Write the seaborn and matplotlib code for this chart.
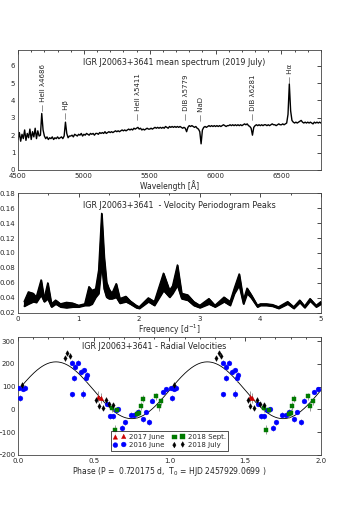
import numpy as np
import seaborn as sns
import matplotlib
matplotlib.use("Agg")
import matplotlib.pyplot as plt
from matplotlib.ticker import MultipleLocator

# --- mean spectrum, sampled every 10 A from 4500 to 6800 ---
wave_start = 4500
wave_step = 10
flux = [
    1.75, 2.15, 1.65, 2.05, 1.80, 2.30, 1.70, 2.10, 1.85, 2.35,
    1.75, 2.20, 1.90, 2.40, 1.80, 2.25, 1.95, 2.00, 3.25, 2.30,
    1.95, 1.80, 1.90, 1.75, 1.85, 1.80, 1.90, 1.75, 1.85, 1.80,
    1.90, 1.80, 1.85, 1.90, 1.80, 1.95, 2.75, 2.10, 1.85, 1.95,
    1.95, 2.00, 1.90, 2.05, 2.00, 1.95, 2.05, 2.00, 2.10, 1.95,
    2.05, 2.00, 2.10, 2.05, 2.00, 2.10, 2.05, 2.10, 2.00, 2.10,
    2.10, 2.05, 2.15, 2.10, 2.15, 2.10, 2.20, 2.10, 2.15, 2.20,
    2.15, 2.20, 2.15, 2.20, 2.25, 2.20, 2.25, 2.20, 2.25, 2.30,
    2.25, 2.30, 2.25, 2.30, 2.35, 2.30, 2.35, 2.30, 2.40, 2.35,
    2.40, 2.45, 2.35, 2.40, 2.30, 2.35, 2.30, 2.35, 2.40, 2.35,
    2.35, 2.40, 2.35, 2.40, 2.45, 2.40, 2.45, 2.40, 2.45, 2.40,
    2.45, 2.40, 2.50, 2.45, 2.40, 2.50, 2.45, 2.50, 2.45, 2.50,
    2.45, 2.50, 2.45, 2.50, 2.45, 2.40, 2.45, 2.40, 2.20, 2.45,
    2.55, 2.50, 2.55, 2.50, 2.45, 2.50, 2.40, 2.35, 2.20, 1.50,
    2.30, 2.45, 2.50, 2.45, 2.50, 2.55, 2.50, 2.55, 2.50, 2.55,
    2.50, 2.55, 2.50, 2.55, 2.50, 2.55, 2.60, 2.55, 2.50, 2.55,
    2.55, 2.60, 2.55, 2.60, 2.55, 2.60, 2.55, 2.60, 2.55, 2.60,
    2.55, 2.60, 2.65, 2.60, 2.65, 2.55, 2.50, 2.40, 2.00, 2.45,
    2.55, 2.60, 2.55, 2.60, 2.55, 2.60, 2.55, 2.60, 2.60, 2.55,
    2.60, 2.55, 2.60, 2.65, 2.60, 2.60, 2.55, 2.60, 2.65, 2.60,
    2.60, 2.65, 2.60, 2.65, 2.70, 3.20, 4.95, 3.40, 2.85, 2.75,
    2.70, 2.75, 2.70, 2.75, 2.80, 2.85, 2.75, 2.70, 2.75, 2.70,
    2.75, 2.70, 2.75, 2.70, 2.65, 2.75, 2.70, 2.75, 2.70, 2.75,
    2.70,
]
line_names = ["HeII \u03bb4686", "H\u03b2", "HeII \u03bb5411", "DIB \u03bb5779",
              "NaD", "DIB \u03bb6281", "H\u03b1"]
line_waves = [4686, 4861, 5411, 5779, 5890, 6281, 6563]
line_base = [3.42, 2.95, 2.87, 2.85, 2.82, 2.85, 4.98]

# --- periodogram band (lower / upper envelope) ---
freq = [0.10, 0.17, 0.25, 0.30, 0.38, 0.43, 0.49, 0.55, 0.62, 0.70,
        0.80, 0.90, 1.00, 1.10, 1.17, 1.22, 1.28, 1.33, 1.38, 1.42,
        1.46, 1.50, 1.55, 1.62, 1.68, 1.78, 1.85, 1.95, 2.00, 2.15,
        2.25, 2.40, 2.50, 2.55, 2.63, 2.70, 2.80, 2.90, 3.00, 3.15,
        3.25, 3.40, 3.50, 3.57, 3.65, 3.72, 3.78, 3.85, 3.95, 4.00,
        4.10, 4.20, 4.30, 4.45, 4.55, 4.65, 4.73, 4.82, 4.92, 5.00]
power_hi = [0.035, 0.048, 0.046, 0.041, 0.064, 0.039, 0.060, 0.032, 0.037, 0.032,
            0.034, 0.033, 0.030, 0.032, 0.055, 0.050, 0.052, 0.077, 0.153, 0.095,
            0.061, 0.052, 0.046, 0.059, 0.039, 0.042, 0.036, 0.030, 0.028, 0.040,
            0.035, 0.073, 0.050, 0.056, 0.084, 0.046, 0.044, 0.035, 0.030, 0.039,
            0.030, 0.041, 0.035, 0.053, 0.072, 0.037, 0.053, 0.044, 0.030, 0.032,
            0.032, 0.031, 0.028, 0.035, 0.028, 0.037, 0.029, 0.039, 0.030, 0.035]
power_lo = [0.029, 0.032, 0.035, 0.034, 0.044, 0.035, 0.039, 0.028, 0.032, 0.028,
            0.027, 0.028, 0.028, 0.030, 0.030, 0.032, 0.041, 0.046, 0.086, 0.052,
            0.041, 0.039, 0.039, 0.041, 0.033, 0.035, 0.032, 0.027, 0.026, 0.035,
            0.030, 0.050, 0.041, 0.046, 0.057, 0.039, 0.037, 0.030, 0.027, 0.032,
            0.028, 0.035, 0.030, 0.046, 0.057, 0.032, 0.046, 0.040, 0.028, 0.030,
            0.030, 0.029, 0.026, 0.032, 0.026, 0.034, 0.027, 0.036, 0.028, 0.032]

# --- radial velocities (phase, km/s, error) ---
jun16_phase = [0.007, 0.015, 0.033, 0.046, 0.354, 0.354, 0.371, 0.376, 0.393, 0.415,
               0.430, 0.433, 0.446, 0.453, 0.587, 0.606, 0.626, 0.645, 0.662, 0.686,
               0.704, 0.745, 0.767, 0.789, 0.824, 0.842, 0.868, 0.886, 0.956, 0.978]
jun16_v = [94, 50, 89, 96, 206, 66, 137, 187, 206, 165,
           69, 171, 136, 152, 24, -31, -31, -2, 0, -82,
           -57, -23, -25, -12, -44, -12, -55, 38, 76, 90]
jun16_err = [10, 12, 10, 10, 12, 12, 14, 12, 12, 12,
             18, 12, 14, 12, 10, 12, 12, 10, 10, 12,
             12, 10, 10, 12, 12, 10, 12, 12, 10, 10]
jun17_phase = [0.530, 0.548]
jun17_v = [56, 48]
jun17_err = [25, 22]
jul18_phase = [0.029, 0.310, 0.325, 0.340, 0.516, 0.534, 0.560, 0.578, 0.600, 0.626]
jul18_v = [108, 225, 249, 237, 40, 16, 7, 43, 22, 19]
jul18_err = [12, 12, 10, 12, 14, 12, 10, 10, 12, 10]
sep18_phase = [0.622, 0.637, 0.655, 0.787, 0.800, 0.812, 0.824, 0.912, 0.930, 0.945]
sep18_v = [5, -90, -5, -22, -15, 14, 47, 57, 14, 36]
sep18_err = [15, 20, 15, 18, 15, 18, 15, 15, 20, 15]
rv_gamma = 84
rv_k = 125


def fold2(phase, values):
    return np.concatenate([phase, np.asarray(phase) + 1]), np.concatenate([values, values])


def style_axes(ax):
    ax.tick_params(which="both", direction="in", top=True, right=True,
                   labelsize=5, pad=2, width=0.5, color="black")
    ax.tick_params(which="major", length=3)
    ax.tick_params(which="minor", length=1.5)
    for s in ax.spines.values():
        s.set_linewidth(0.6)
        s.set_color("#444444")


def main():
    sns.set_style("white")
    plt.rcParams["font.family"] = ["DejaVu Sans"]
    fig = plt.figure(figsize=(3.61, 5.07), dpi=100)

    # spectrum
    ax1 = fig.add_axes([0.05, 0.665, 0.839, 0.236])
    wave = wave_start + wave_step * np.arange(len(flux))
    sns.lineplot(x=wave, y=flux, ax=ax1, color="black", linewidth=1.0)
    for name, w, b in zip(line_names, line_waves, line_base):
        ax1.text(w, b, "\u2014 " + name, rotation=90, ha="center", va="bottom",
                 fontsize=5)
    ax1.set_xlim(4500, 6800)
    ax1.set_ylim(0, 6.9)
    ax1.xaxis.set_major_locator(MultipleLocator(500))
    ax1.xaxis.set_minor_locator(MultipleLocator(100))
    ax1.yaxis.set_major_locator(MultipleLocator(1))
    ax1.set_xlabel("Wavelength [\u00c5]", fontsize=5.5, labelpad=1)
    ax1.text(0.515, 0.9, "IGR J20063+3641 mean spectrum (2019 July)",
             transform=ax1.transAxes, ha="center", va="center", fontsize=5.8)
    style_axes(ax1)

    # periodogram
    ax2 = fig.add_axes([0.05, 0.383, 0.839, 0.236])
    ax2.fill_between(freq, power_lo, power_hi, color="black", linewidth=1.0)
    sns.lineplot(x=freq, y=power_hi, ax=ax2, color="black", linewidth=1.0)
    sns.lineplot(x=freq, y=power_lo, ax=ax2, color="black", linewidth=1.0)
    ax2.set_xlim(0, 5)
    ax2.set_ylim(0.02, 0.18)
    ax2.xaxis.set_major_locator(MultipleLocator(1))
    ax2.xaxis.set_minor_locator(MultipleLocator(0.5))
    ax2.yaxis.set_major_locator(MultipleLocator(0.02))
    ax2.yaxis.set_major_formatter(lambda x, pos: f"{x:.2f}")
    ax2.set_xlabel("Frequency [d$^{-1}$]", fontsize=5.5, labelpad=1)
    ax2.set_ylabel("")
    ax2.text(0.533, 0.9, "IGR J20063+3641  - Velocity Periodogram Peaks",
             transform=ax2.transAxes, ha="center", va="center", fontsize=5.8)
    style_axes(ax2)

    # radial velocities
    ax3 = fig.add_axes([0.05, 0.103, 0.839, 0.233])
    ph = np.linspace(0, 2, 400)
    sns.lineplot(x=ph, y=rv_gamma + rv_k * np.sin(2 * np.pi * ph), ax=ax3,
                 color="black", linewidth=0.6)
    groups = [
        ("2017 June", jun17_phase, jun17_v, jun17_err, "^", "#cc0000", 10),
        ("2016 June", jun16_phase, jun16_v, jun16_err, "o", "#0000ff", 12),
        ("2018 Sept.", sep18_phase, sep18_v, sep18_err, "s", "#007a00", 11),
        ("2018 July", jul18_phase, jul18_v, jul18_err, "d", "black", 8),
    ]
    for label, p, v, e, m, c, s in groups:
        px, vy = fold2(p, v)
        _, ey = fold2(p, e)
        ax3.errorbar(px, vy, yerr=ey, fmt="none", ecolor="#888888",
                     elinewidth=0.6, capsize=0)
        sns.scatterplot(x=px, y=vy, ax=ax3, marker=m, color=c, s=s,
                        edgecolor=c, linewidth=0.3, label=label, zorder=3)
    ax3.set_xlim(0, 2)
    ax3.set_ylim(-200, 320)
    ax3.xaxis.set_major_locator(MultipleLocator(0.5))
    ax3.xaxis.set_minor_locator(MultipleLocator(0.1))
    ax3.yaxis.set_major_locator(MultipleLocator(100))
    ax3.set_xlabel("Phase (P =  0.720175 d,  T$_0$ = HJD 2457929.0699 )",
                   fontsize=5.5, labelpad=1)
    ax3.text(0.45, 0.915, "IGR J20063+3641 - Radial Velocities",
             transform=ax3.transAxes, ha="center", va="center", fontsize=5.8)
    leg = ax3.legend(loc="lower center", bbox_to_anchor=(0.5, 0.005), ncol=2,
                     fontsize=5, scatterpoints=2, frameon=True, fancybox=False,
                     handletextpad=0.4, columnspacing=1.2, borderpad=0.4,
                     labelspacing=0.3, handlelength=1.8)
    leg.get_frame().set_edgecolor("black")
    leg.get_frame().set_linewidth(0.6)
    style_axes(ax3)

    fig.savefig("out.png", dpi=100)


if __name__ == "__main__":
    main()
